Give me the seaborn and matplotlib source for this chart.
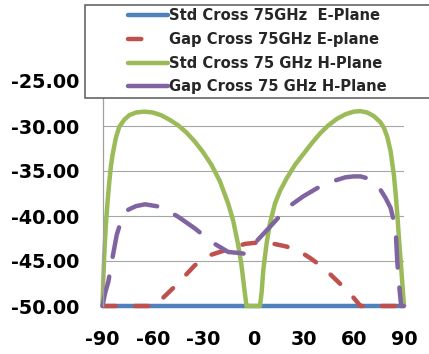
import matplotlib
matplotlib.use("Agg")
import matplotlib.pyplot as plt
from matplotlib.patches import Rectangle
from matplotlib.lines import Line2D
import seaborn as sns
import pandas as pd

# ---- data ----
labels = ["Std Cross 75GHz  E-Plane", "Gap Cross 75GHz E-plane",
          "Std Cross 75 GHz H-Plane", "Gap Cross 75 GHz H-Plane"]
x_ticks = [-90, -60, -30, 0, 30, 60, 90]
y_ticks = [-50, -45, -40, -35, -30, -25]

std_e_theta = [-90, 90]
std_e_db = [-50, -50]

gap_e_theta = [-90, -58, -55, -50, -45, -40, -35, -30, -25, -20, -15, -10, -5, 0,
               5, 10, 15, 20, 25, 30, 35, 40, 45, 50, 55, 60, 64, 90]
gap_e_db = [-50, -50, -49.3, -48.4, -47.5, -46.5, -45.5, -44.8, -44.3, -44.0, -43.7,
            -43.4, -43.1, -43.0, -42.9, -43.0, -43.2, -43.4, -43.8, -44.2, -44.8,
            -45.5, -46.3, -47.2, -48.1, -49.1, -50, -50]

std_h_theta = [-90, -89.5, -89, -88, -87, -86, -85, -84, -82, -80, -77, -74, -70, -65,
               -60, -55, -50, -45, -40, -35, -30, -25, -20, -15, -12, -9, -7, -5, -4,
               4, 5, 6, 8, 10, 13, 16, 20, 25, 30, 35, 40, 45, 50, 55, 60, 64, 68,
               72, 76, 78, 80, 82, 84, 85, 86, 87, 88, 89, 90]
std_h_db = [-50, -47, -44.5, -41, -38.5, -36.3, -34.5, -33.2, -31.3, -30.1, -29.3,
            -28.8, -28.5, -28.4, -28.5, -28.8, -29.3, -29.9, -30.7, -31.7, -32.9,
            -34.3, -36.1, -38.6, -40.5, -43.2, -45.5, -48.6, -50,
            -50, -48.5, -46, -43, -40.8, -38.6, -37.2, -35.8, -34.3, -33.1, -31.9,
            -30.8, -29.9, -29.2, -28.7, -28.4, -28.35, -28.5, -28.9, -29.6, -30.2,
            -31.2, -32.8, -35.5, -37.5, -39.8, -42.5, -45, -47.5, -50]

gap_h_theta = [-90, -88.5, -86.5, -84.5, -81.5, -78.5, -74.6, -70, -64.6, -54.7,
               -44.7, -34.7, -24.8, -14.9, -8.9, -5, -2, 0, 5, 10, 14.4, 22.4, 30,
               38.2, 48.1, 55, 60, 64, 68, 72, 76, 79, 82, 85, 86, 87, 88.3, 90]
gap_h_db = [-50, -48.6, -47.3, -45.1, -42.1, -40.3, -39.3, -38.9, -38.7, -39.0,
            -40.1, -41.4, -42.9, -44.0, -44.1, -44.2, -43.8, -43.2, -42.2, -41.2,
            -40.3, -38.8, -37.8, -36.9, -36.1, -35.7, -35.6, -35.6, -35.8, -36.3,
            -37.1, -38.0, -39.1, -41.4, -45.1, -47.5, -50, -50]

colors = ["#4F81BD", "#C0504D", "#9BBB59", "#8064A2"]

# ---- figure ----
sns.set_style("white")
plt.rcParams["font.family"] = ["DejaVu Sans"]
plt.rcParams["axes.unicode_minus"] = False

W, H = 429, 354
fig = plt.figure(figsize=(W / 100, H / 100), dpi=100)
ax = fig.add_axes([102.5 / W, 1 - 306 / H, (404 - 102.5) / W, (306 - 81) / H])

lw = 3.2
series = [
    (std_e_theta, std_e_db, "-"),
    (gap_e_theta, gap_e_db, (0, (3.0, 4.3))),
    (std_h_theta, std_h_db, "-"),
    (gap_h_theta, gap_h_db, (0, (6.8, 4.5))),
]
for (th, db, ls), c, lab in zip(series, colors, labels):
    df = pd.DataFrame({"theta": th, "db": db})
    sns.lineplot(data=df, x="theta", y="db", color=c, linewidth=lw, linestyle=ls,
                 ax=ax, clip_on=False, solid_capstyle="butt", dash_capstyle="round",
                 sort=False, estimator=None)

ax.set_xlim(-90, 90)
ax.set_ylim(-50, -25)
ax.set_xticks(x_ticks)
ax.set_yticks(y_ticks)
ax.set_xticklabels([str(v) for v in x_ticks])
ax.set_yticklabels([f"{v:.2f}" for v in y_ticks])
ax.set_xlabel("")
ax.set_ylabel("")
ax.tick_params(axis="both", length=0, labelsize=13.8, colors="black")
ax.tick_params(axis="y", pad=17)
ax.tick_params(axis="x", pad=17)
for t in ax.get_xticklabels() + ax.get_yticklabels():
    t.set_fontweight("bold")

ax.grid(axis="y", color="#A6A6A6", linewidth=0.8)
ax.grid(axis="x", visible=False)
for s in ["top", "right", "bottom"]:
    ax.spines[s].set_visible(False)
ax.spines["left"].set_color("#A0A0A0")
ax.spines["left"].set_linewidth(0.9)
ax.set_axisbelow(True)
if ax.get_legend():
    ax.get_legend().remove()

# legend box (extends past the right edge of the image, as in the original)
rect = Rectangle((84.5 / W, 1 - 98 / H), (520 - 84.5) / W, 93 / H,
                 transform=fig.transFigure, facecolor="white", edgecolor="#595959",
                 linewidth=1.1, zorder=3, clip_on=False)
fig.add_artist(rect)

handles = [
    Line2D([], [], color=colors[0], linewidth=lw, solid_capstyle="round"),
    Line2D([], [], color=colors[1], linewidth=lw, linestyle=(0, (3.0, 20)), dash_capstyle="round"),
    Line2D([], [], color=colors[2], linewidth=lw, solid_capstyle="round"),
    Line2D([], [], color=colors[3], linewidth=lw, solid_capstyle="round"),
]
leg = fig.legend(handles, labels, loc="upper left",
                 bbox_to_anchor=(128 / W, 1 - 8.0 / H), frameon=False,
                 borderpad=0, borderaxespad=0, handlelength=2.75,
                 handletextpad=0.05, labelspacing=0.6,
                 prop={"weight": "bold", "size": 10.6})
leg.set_zorder(5)

fig.savefig("out.png", dpi=100)
